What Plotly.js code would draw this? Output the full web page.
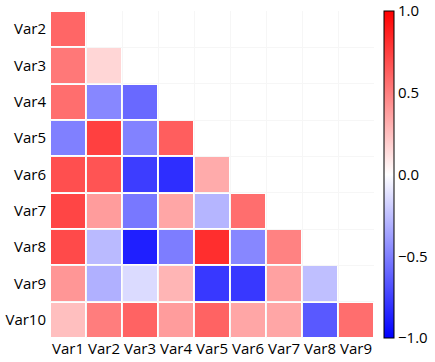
<!DOCTYPE html>
<html>
<head>
<meta charset="utf-8">
<script src="https://cdn.plot.ly/plotly-3.0.1.min.js"></script>
<style>html,body{margin:0;padding:0;background:#fff;}#chart{width:435px;height:362px;}</style>
</head>
<body>
<div id="chart"></div>
<script>
// Column (x) and row (y) categories
var xLabels = ["Var1","Var2","Var3","Var4","Var5","Var6","Var7","Var8","Var9"];
var yLabels = ["Var2","Var3","Var4","Var5","Var6","Var7","Var8","Var9","Var10"];

// Lower-triangle correlation values, one row per y category
var rowVar2  = [0.60];
var rowVar3  = [0.53, 0.16];
var rowVar4  = [0.57, -0.47, -0.59];
var rowVar5  = [-0.50, 0.75, -0.49, 0.63];
var rowVar6  = [0.69, 0.67, -0.76, -0.82, 0.33];
var rowVar7  = [0.73, 0.39, -0.53, 0.35, -0.29, 0.57];
var rowVar8  = [0.71, -0.27, -0.88, -0.51, 0.82, -0.47, 0.49];
var rowVar9  = [0.41, -0.31, -0.14, 0.29, -0.78, -0.78, 0.37, -0.25];
var rowVar10 = [0.25, 0.51, 0.61, 0.39, 0.61, 0.35, 0.35, -0.65, 0.57];

var rows = [rowVar2,rowVar3,rowVar4,rowVar5,rowVar6,rowVar7,rowVar8,rowVar9,rowVar10];
var z = rows.map(function(r){
  var out = [];
  for (var j = 0; j < xLabels.length; j++) out.push(j < r.length ? r[j] : null);
  return out;
});

var trace = {
  type: "heatmap",
  x: xLabels,
  y: yLabels,
  z: z,
  zmin: -1, zmax: 1,
  xgap: 2, ygap: 2,
  colorscale: [[0,"rgb(0,0,255)"],[0.5,"rgb(255,255,255)"],[1,"rgb(255,0,0)"]],
  hoverongaps: false,
  colorbar: {
    x: 1.03, xanchor: "left", xpad: 0, ypad: 0,
    y: 0.5, yanchor: "middle", len: 1, lenmode: "fraction",
    thickness: 10,
    outlinewidth: 1, outlinecolor: "#000",
    tickvals: [-1,-0.5,0,0.5,1],
    ticktext: ["\u22121.0","\u22120.5","0.0","0.5","1.0"],
    ticks: "", ticklen: 0,
    ticklabeloverflow: "allow",
    tickfont: {size: 15, color: "#000"}
  }
};

var layout = {
  width: 435, height: 362,
  margin: {l: 50, r: 58, t: 11, b: 24, pad: 0},
  paper_bgcolor: "#fff",
  plot_bgcolor: "#fff",
  font: {family: '"Open Sans", sans-serif', size: 15, color: "#000"},
  xaxis: {
    type: "category", tickson: "boundaries", ticks: "", tickangle: 0,
    showgrid: true, gridcolor: "#f6f6f6", gridwidth: 1,
    zeroline: false, showline: false, ticklen: 0,
    tickfont: {size: 15, color: "#000"}
  },
  yaxis: {
    type: "category", autorange: "reversed", tickson: "boundaries", ticks: "",
    showgrid: true, gridcolor: "#f6f6f6", gridwidth: 1,
    zeroline: false, showline: false, ticklen: 0, ticklabelstandoff: 3,
    tickfont: {size: 15, color: "#000"}
  }
};

Plotly.newPlot("chart", [trace], layout, {displayModeBar: false, staticPlot: true});
</script>
</body>
</html>
